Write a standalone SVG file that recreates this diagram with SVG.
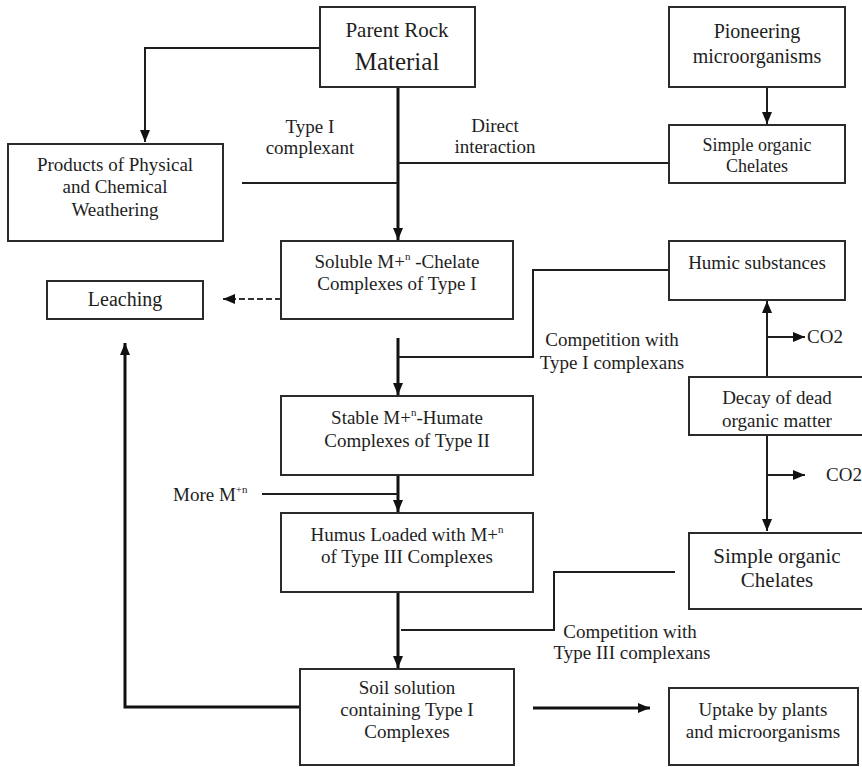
<svg xmlns="http://www.w3.org/2000/svg" width="862" height="767" viewBox="0 0 862 767">
  <style>
    .box { fill: #ffffff; stroke: #2b2b2b; stroke-width: 2; }
    .t { font-family: "Liberation Serif", "Times New Roman", serif; font-size: 19px; fill: #1e1e1e; text-anchor: middle; }
    .ts { font-family: "Liberation Serif", "Times New Roman", serif; font-size: 19px; fill: #1e1e1e; }
    .sup { font-size: 11px; }
    .ln { fill: none; stroke: #1e1e1e; stroke-width: 2; }
    .thick { fill: none; stroke: #111111; stroke-width: 3; }
    .dash { fill: none; stroke: #333333; stroke-width: 2; stroke-dasharray: 6 3; }
  </style>
  <defs>
    <marker id="arrow" viewBox="0 0 12 12" refX="12" refY="6" markerUnits="userSpaceOnUse" markerWidth="12" markerHeight="12" orient="auto">
      <path d="M0,1 L12,6 L0,11 Z" fill="#111111"/>
    </marker>
  </defs>
  <rect width="862" height="767" fill="#ffffff"/>

  <!-- connectors -->
  <g id="connectors">
    <polyline class="ln" points="320,48 145,48 145,142" marker-end="url(#arrow)"/>
    <line class="thick" x1="398" y1="87" x2="398" y2="240" marker-end="url(#arrow)"/>
    <line class="ln" x1="242" y1="183" x2="398" y2="183"/>
    <line class="ln" x1="398" y1="163" x2="669" y2="163"/>
    <line class="ln" x1="767" y1="87" x2="767" y2="124" marker-end="url(#arrow)"/>
    <line class="dash" x1="281" y1="299" x2="223" y2="299" marker-end="url(#arrow)"/>
    <line class="thick" x1="398" y1="338" x2="398" y2="395" marker-end="url(#arrow)"/>
    <polyline class="ln" points="669,270 533,270 533,357 398,357"/>
    <line class="ln" x1="767" y1="377" x2="767" y2="301" marker-end="url(#arrow)"/>
    <line class="ln" x1="767" y1="337" x2="805" y2="337" marker-end="url(#arrow)"/>
    <line class="ln" x1="767" y1="435" x2="767" y2="531" marker-end="url(#arrow)"/>
    <line class="ln" x1="767" y1="475" x2="805" y2="475" marker-end="url(#arrow)"/>
    <line class="thick" x1="398" y1="475" x2="398" y2="512" marker-end="url(#arrow)"/>
    <line class="ln" x1="262" y1="494" x2="398" y2="494"/>
    <line class="thick" x1="398" y1="592" x2="398" y2="668" marker-end="url(#arrow)"/>
    <polyline class="ln" points="675,572 554,572 554,630 401,630"/>
    <polyline class="thick" points="300,707 125,707 125,343" marker-end="url(#arrow)"/>
    <line class="thick" x1="533" y1="708" x2="650" y2="708" marker-end="url(#arrow)"/>
  </g>

  <!-- connector labels -->
  <g id="labels">
    <text class="t" x="310" y="133">Type I</text>
    <text class="t" x="310" y="154">complexant</text>
    <text class="t" x="495" y="132">Direct</text>
    <text class="t" x="495" y="153">interaction</text>
    <text class="ts" x="807" y="343">CO2</text>
    <text class="ts" x="826" y="481">CO2</text>
    <text class="t" x="612" y="346">Competition with</text>
    <text class="t" x="612" y="369">Type I complexans</text>
    <text class="ts" x="173" y="501">More  M<tspan class="sup" dy="-8">+n</tspan></text>
    <text class="t" x="630" y="638">Competition with</text>
    <text class="t" x="632" y="659">Type III complexans</text>
  </g>

  <g id="parent-rock">
    <rect class="box" x="320" y="7" width="155" height="80"/>
    <text class="t" x="397" y="37" style="font-size:21px">Parent Rock</text>
    <text class="t" x="397" y="70" style="font-size:25px">Material</text>
  </g>

  <g id="pioneering">
    <rect class="box" x="669" y="7" width="176" height="80"/>
    <text class="t" x="757" y="38" style="font-size:20px">Pioneering</text>
    <text class="t" x="757" y="63" style="font-size:20px">microorganisms</text>
  </g>

  <g id="simple-chelates-top">
    <rect class="box" x="669" y="125" width="176" height="58"/>
    <text class="t" x="757" y="151" style="font-size:18px">Simple organic</text>
    <text class="t" x="757" y="172" style="font-size:18px">Chelates</text>
  </g>

  <g id="products">
    <rect class="box" x="8" y="144" width="215" height="97"/>
    <text class="t" x="115" y="171">Products of Physical</text>
    <text class="t" x="115" y="193">and Chemical</text>
    <text class="t" x="115" y="216">Weathering</text>
  </g>

  <g id="soluble">
    <rect class="box" x="281" y="241" width="232" height="78"/>
    <text class="t" x="397" y="268">Soluble M+<tspan class="sup" dy="-8">n</tspan><tspan dy="8"> -Chelate</tspan></text>
    <text class="t" x="397" y="290">Complexes of Type I</text>
  </g>

  <g id="leaching">
    <rect class="box" x="47" y="281" width="156" height="38"/>
    <text class="t" x="125" y="306" style="font-size:20px">Leaching</text>
  </g>

  <g id="humic">
    <rect class="box" x="669" y="241" width="176" height="59"/>
    <text class="t" x="757" y="269">Humic substances</text>
  </g>

  <g id="stable">
    <rect class="box" x="281" y="396" width="252" height="79"/>
    <text class="t" x="407" y="424">Stable M+<tspan class="sup" dy="-8">n</tspan><tspan dy="8">-Humate</tspan></text>
    <text class="t" x="407" y="447">Complexes of Type II</text>
  </g>

  <g id="decay">
    <rect class="box" x="689" y="377" width="180" height="58"/>
    <text class="t" x="777" y="404">Decay of dead</text>
    <text class="t" x="777" y="427">organic matter</text>
  </g>

  <g id="humus">
    <rect class="box" x="281" y="513" width="252" height="79"/>
    <text class="t" x="407" y="541">Humus Loaded with M+<tspan class="sup" dy="-8">n</tspan></text>
    <text class="t" x="407" y="563">of Type III Complexes</text>
  </g>

  <g id="simple-chelates-bottom">
    <rect class="box" x="689" y="533" width="180" height="76"/>
    <text class="t" x="777" y="563" style="font-size:21px">Simple organic</text>
    <text class="t" x="777" y="587" style="font-size:21px">Chelates</text>
  </g>

  <g id="soil-solution">
    <rect class="box" x="300" y="669" width="214" height="96"/>
    <text class="t" x="407" y="694">Soil solution</text>
    <text class="t" x="407" y="716">containing Type I</text>
    <text class="t" x="407" y="738">Complexes</text>
  </g>

  <g id="uptake">
    <rect class="box" x="669" y="688" width="189" height="77"/>
    <text class="t" x="763" y="716">Uptake by plants</text>
    <text class="t" x="763" y="738">and microorganisms</text>
  </g>
</svg>
